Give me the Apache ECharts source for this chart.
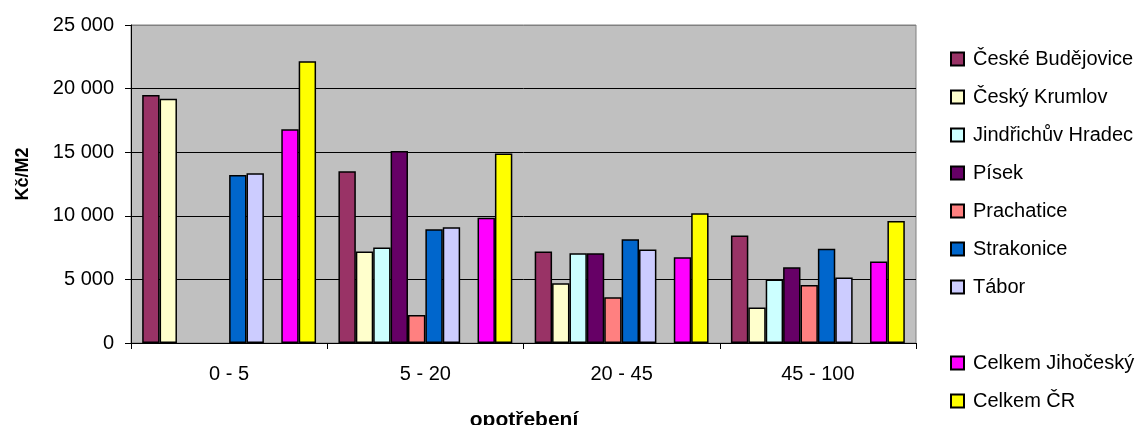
<!DOCTYPE html>
<html>
<head>
<meta charset="utf-8">
<script src="https://cdn.jsdelivr.net/npm/echarts@6/dist/echarts.min.js"></script>
<style>
html,body{margin:0;padding:0;background:#fff;}
#c{width:1142px;height:425px;}
</style>
</head>
<body>
<div id="c"></div>
<script>
var categories = ['0 - 5', '5 - 20', '20 - 45', '45 - 100'];
var ceskeBudejovice = [19500, 13500, 7200, 8450];
var ceskyKrumlov = [19200, 7200, 4700, 2800];
var jindrichuvHradec = [null, 7500, 7050, 5000];
var pisek = [null, 15100, 7050, 5950];
var prachatice = [null, 2200, 3600, 4550];
var strakonice = [13200, 8950, 8150, 7400];
var tabor = [13350, 9100, 7350, 5150];
var blank = [null, null, null, null];
var celkemJihocesky = [16800, 9850, 6750, 6400];
var celkemCR = [22150, 14900, 10200, 9600];
var yTicks = [0, 5000, 10000, 15000, 20000, 25000];

var seriesDefs = [
  {name: 'České Budějovice', data: ceskeBudejovice, color: '#993366'},
  {name: 'Český Krumlov', data: ceskyKrumlov, color: '#FFFFCC'},
  {name: 'Jindřichův Hradec', data: jindrichuvHradec, color: '#CCFFFF'},
  {name: 'Písek', data: pisek, color: '#660066'},
  {name: 'Prachatice', data: prachatice, color: '#FF8080'},
  {name: 'Strakonice', data: strakonice, color: '#0066CC'},
  {name: 'Tábor', data: tabor, color: '#CCCCFF'},
  {name: '-', data: blank, color: '#C0C0C0'},
  {name: 'Celkem Jihočeský', data: celkemJihocesky, color: '#FF00FF'},
  {name: 'Celkem ČR', data: celkemCR, color: '#FFFF00'}
];

var FONT = '"Liberation Sans", Arial, sans-serif';

var chart = echarts.init(document.getElementById('c'), null, {renderer: 'canvas'});
var option = {
  animation: false,
  backgroundColor: '#ffffff',
  grid: {
    left: 131, right: 226, top: 25, bottom: 82,
    show: true, backgroundColor: '#C0C0C0', borderColor: '#808080', borderWidth: 1
  },
  xAxis: {
    type: 'category',
    data: categories,
    axisLine: {lineStyle: {color: '#000', width: 1}},
    axisTick: {show: true, length: 6, lineStyle: {color: '#000'}},
    axisLabel: {color: '#000', fontSize: 20, fontFamily: FONT, margin: 21},
    splitLine: {show: false}
  },
  yAxis: {
    type: 'value',
    min: yTicks[0], max: yTicks[yTicks.length - 1], interval: yTicks[1] - yTicks[0],
    axisLine: {show: true, lineStyle: {color: '#000', width: 1}},
    axisTick: {show: true, length: 6, lineStyle: {color: '#000'}},
    axisLabel: {
      color: '#000', fontSize: 20, fontFamily: FONT, margin: 17,
      formatter: function (v) { return String(v).replace(/\B(?=(\d{3})+(?!\d))/g, ' '); }
    },
    splitLine: {show: true, lineStyle: {color: ['#000', '#000', '#000', '#000', '#000', '#808080'], width: 1}}
  },
  legend: [
    {
      orient: 'vertical', left: 945, top: 44, itemGap: 18,
      itemWidth: 13, itemHeight: 13, icon: 'rect',
      textStyle: {color: '#000', fontSize: 20, fontFamily: FONT, lineHeight: 20, padding: [0, 0, 0, 4]},
      data: seriesDefs.slice(0, 7).map(function (s) { return s.name; })
    },
    {
      orient: 'vertical', left: 945, top: 348, itemGap: 18,
      itemWidth: 13, itemHeight: 13, icon: 'rect',
      textStyle: {color: '#000', fontSize: 20, fontFamily: FONT, lineHeight: 20, padding: [0, 0, 0, 4]},
      data: seriesDefs.slice(8).map(function (s) { return s.name; })
    }
  ],
  graphic: [
    {
      type: 'text', x: 23, y: 174, rotation: Math.PI / 2,
      style: {text: 'Kč/M2', font: 'bold 18px ' + FONT, fill: '#000', textAlign: 'center', textVerticalAlign: 'middle'}
    },
    {
      type: 'text', x: 524, y: 420,
      style: {text: 'opotřebení', font: 'bold 21px ' + FONT, fill: '#000', textAlign: 'center', textVerticalAlign: 'middle'}
    }
  ],
  series: seriesDefs.map(function (s) {
    return {
      name: s.name,
      type: 'bar',
      data: s.data,
      barGap: '0%',
      barCategoryGap: '11.4%',
      itemStyle: {color: s.color, borderColor: '#000', borderWidth: 1.5},
      emphasis: {disabled: true}
    };
  })
};
chart.setOption(option);
</script>
</body>
</html>
